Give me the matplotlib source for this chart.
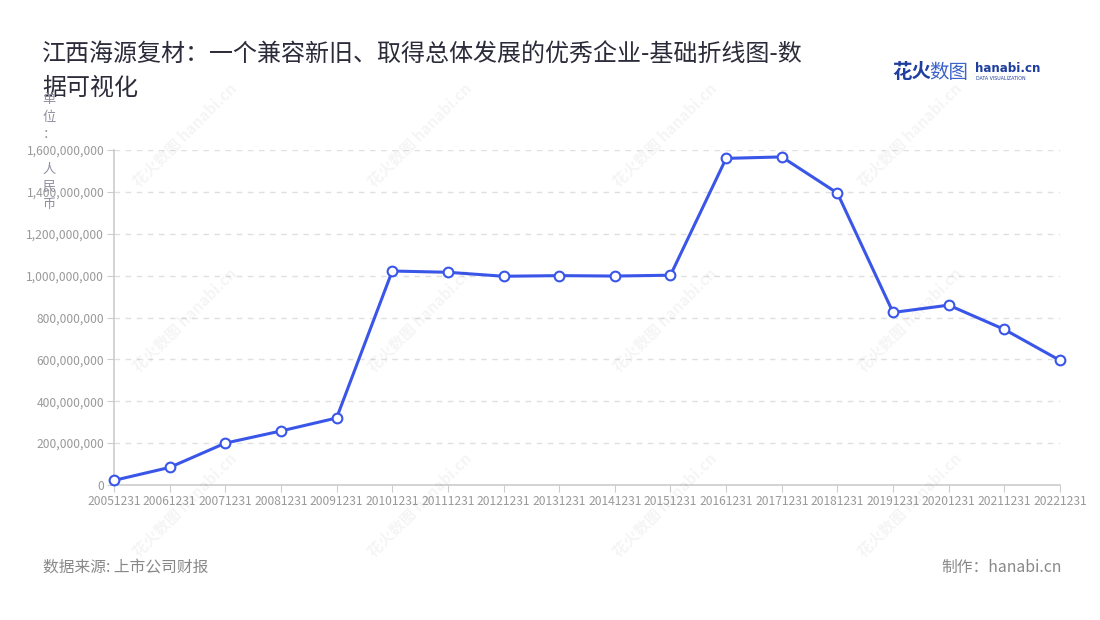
import matplotlib
matplotlib.use("Agg")
import matplotlib.pyplot as plt
from matplotlib.ticker import FuncFormatter

plt.rcParams['font.family'] = ['Noto Sans CJK SC', 'DejaVu Sans']

categories = ["20051231", "20061231", "20071231", "20081231", "20091231", "20101231",
              "20111231", "20121231", "20131231", "20141231", "20151231", "20161231",
              "20171231", "20181231", "20191231", "20201231", "20211231", "20221231"]
values = [22e6, 84e6, 200e6, 258e6, 320e6, 1022e6, 1016e6, 997e6, 1000e6, 998e6,
          1002e6, 1560e6, 1567e6, 1394e6, 824e6, 859e6, 743e6, 595e6]
y_ticks = [0, 200e6, 400e6, 600e6, 800e6, 1000e6, 1200e6, 1400e6, 1600e6]

title = "江西海源复材：一个兼容新旧、取得总体发展的优秀企业-基础折线图-数\n据可视化"
y_name = "单\n位\n：\n\n人\n民\n币"
source = "数据来源: 上市公司财报"
maker = "制作：hanabi.cn"

W, H = 1100, 620
fig = plt.figure(figsize=(W / 100, H / 100), dpi=100)
ax = fig.add_axes([114 / W, 1 - 485 / H, (1060 - 114) / W, (485 - 150) / H])

# watermarks
for cx in [185, 420, 665, 910]:
    for cy in [135, 320, 505]:
        fig.text(cx / W, 1 - cy / H, "花火数图 hanabi.cn", rotation=45, fontsize=11,
                 color='#000000', alpha=0.045, ha='center', va='center', fontweight='bold')

x = list(range(len(categories)))
ax.plot(x, values, color='#3a56e8', linewidth=2.2, marker='o', markersize=7,
        markerfacecolor='white', markeredgecolor='#3a56e8', markeredgewidth=1.5, zorder=5,
        clip_on=False)

ax.set_xlim(0, len(categories) - 1)
ax.set_ylim(0, 1600e6)
ax.set_yticks(y_ticks)
ax.yaxis.set_major_formatter(FuncFormatter(lambda v, p: f"{int(v):,}"))
ax.set_xticks(x)
ax.set_xticklabels(categories)

ax.grid(axis='y', linestyle=(0, (4, 4)), color='#e0e0e0', linewidth=1)
ax.set_axisbelow(True)
for s in ['top', 'right']:
    ax.spines[s].set_visible(False)
for s in ['left', 'bottom']:
    ax.spines[s].set_color('#cccccc')
    ax.spines[s].set_linewidth(1.2)
ax.tick_params(axis='x', colors='#cccccc', labelcolor='#999999', labelsize=8.7, length=5, pad=2)
ax.tick_params(axis='y', colors='#cccccc', labelcolor='#999999', labelsize=8.7, length=5, pad=2)

fig.text(42 / W, 1 - 71 / H, title, fontsize=17.3, color='#2b2b3a', ha='left', va='center',
         linespacing=1.35)
fig.text(49 / W, 1 - 152 / H, y_name, fontsize=9.5, color='#8f8f9f', ha='center', va='center',
         linespacing=1.45)

fig.text(43 / W, 1 - 567 / H, source, fontsize=11.3, color='#888888', ha='left', va='center')
fig.text(1062 / W, 1 - 567 / H, maker, fontsize=11.3, color='#888888', ha='right', va='center')

# logo
fig.text(892 / W, 1 - 72 / H, "花火", fontsize=14, color='#1f3f9f', fontweight='bold',
         ha='left', va='center')
fig.text(929 / W, 1 - 72 / H, "数图", fontsize=14, color='#3b63c9', ha='left', va='center')
fig.text(975 / W, 1 - 69 / H, "hanabi.cn", fontsize=8.6, color='#1f3f9f', fontweight='bold',
         ha='left', va='center', family='DejaVu Sans')
fig.text(976 / W, 1 - 79 / H, "DATA VISUALIZATION", fontsize=3.4, color='#1f3f9f',
         ha='left', va='center', family='DejaVu Sans')

fig.savefig("out.png", dpi=100)
